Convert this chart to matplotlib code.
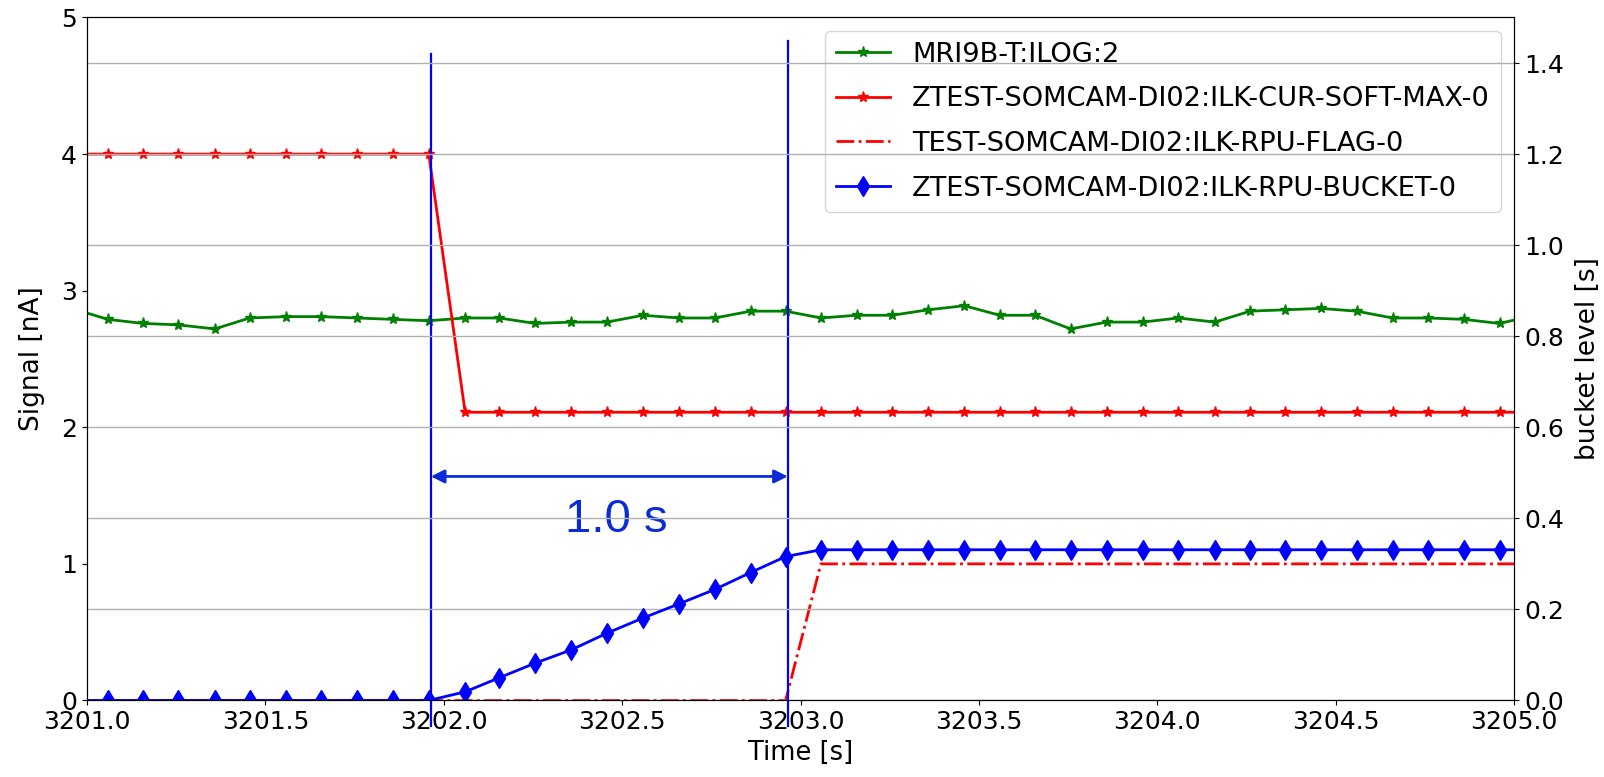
import matplotlib
matplotlib.use('Agg')
import matplotlib.pyplot as plt
import matplotlib.transforms as mtransforms

# sample timestamps [s]
time = [3200.958, 3201.058, 3201.158, 3201.255, 3201.358, 3201.456, 3201.557, 3201.657,
        3201.756, 3201.857, 3201.958, 3202.060, 3202.156, 3202.256, 3202.357, 3202.458,
        3202.558, 3202.659, 3202.760, 3202.860, 3202.958, 3203.057, 3203.157, 3203.257,
        3203.358, 3203.459, 3203.558, 3203.657, 3203.757, 3203.858, 3203.959, 3204.059,
        3204.161, 3204.260, 3204.358, 3204.458, 3204.559, 3204.659, 3204.759, 3204.859,
        3204.959, 3205.058]

ilog = [2.87, 2.79, 2.76, 2.75, 2.72, 2.80, 2.81, 2.81, 2.80, 2.79, 2.78, 2.80, 2.80, 2.76,
        2.77, 2.77, 2.82, 2.80, 2.80, 2.85, 2.85, 2.80, 2.82, 2.82, 2.86, 2.89, 2.82, 2.82,
        2.72, 2.77, 2.77, 2.80, 2.77, 2.85, 2.86, 2.87, 2.85, 2.80, 2.80, 2.79, 2.76, 2.82]

soft_max = [4.0] * 11 + [2.11] * 31

rpu_flag = [0] * 21 + [1] * 21

bucket = [0.0] * 11 + [0.019, 0.050, 0.082, 0.111, 0.148, 0.181, 0.212, 0.244, 0.281,
                       0.316] + [0.331] * 21

t_trip_start = 3201.964
t_trip_end = 3202.964

label_ilog = "MRI9B-T:ILOG:2"
label_soft = "ZTEST-SOMCAM-DI02:ILK-CUR-SOFT-MAX-0"
label_flag = "TEST-SOMCAM-DI02:ILK-RPU-FLAG-0"
label_bucket = "ZTEST-SOMCAM-DI02:ILK-RPU-BUCKET-0"

plt.rcParams['font.size'] = 18

fig = plt.figure(figsize=(16.04, 7.77), dpi=100)
ax1 = fig.add_axes([0.0542, 0.0985, 0.8898, 0.879])
ax2 = ax1.twinx()

l1, = ax1.plot(time, ilog, color='green', marker='*', markersize=8, linewidth=2, label=label_ilog)
l2, = ax1.plot(time, soft_max, color='red', marker='*', markersize=8, linewidth=2, label=label_soft)
l3, = ax1.plot(time, rpu_flag, color='red', linestyle='-.', linewidth=2, label=label_flag)
l4, = ax2.plot(time, bucket, color='blue', marker='d', markersize=10, linewidth=2, label=label_bucket)

ax1.set_xlim(3201.0, 3205.0)
ax1.set_ylim(0, 5)
ax2.set_ylim(0, 1.5)
ax1.set_yticks([0, 1, 2, 3, 4, 5])
ax2.set_yticks([0.0, 0.2, 0.4, 0.6, 0.8, 1.0, 1.2, 1.4])
ax1.ticklabel_format(axis='x', useOffset=False)
ax1.set_xlabel("Time [s]", fontsize=18.5)
ax1.set_ylabel("Signal [nA]", fontsize=19, labelpad=12)
ax2.set_ylabel("bucket level [s]", fontsize=19, labelpad=8)
ax2.grid(True, color='#b0b0b0', linewidth=1)

ax1.legend(handles=[l1, l2, l3, l4], loc='upper right', fontsize=19.6, labelspacing=0.68)

# trip window markers
trans = mtransforms.blended_transform_factory(ax1.transData, ax1.transAxes)
ax1.plot([t_trip_start, t_trip_start], [-0.037, 0.947], color='blue', linewidth=1.6,
         transform=trans, clip_on=False)
ax1.plot([t_trip_end, t_trip_end], [-0.037, 0.966], color='blue', linewidth=1.6,
         transform=trans, clip_on=False)
ax1.annotate('', xy=(t_trip_end, 0.328), xytext=(t_trip_start, 0.328), xycoords=trans,
             textcoords=trans,
             arrowprops=dict(arrowstyle='<|-|>', color='#0a2cd8', lw=2, mutation_scale=20,
                             shrinkA=0, shrinkB=0))
ax1.text(t_trip_start + 0.52 * (t_trip_end - t_trip_start), 0.264,
         f"{t_trip_end - t_trip_start:.1f} s",
         transform=trans, ha='center', va='center', color='#0a2cd8', fontsize=34,
         family='Liberation Sans')

fig.savefig("out.png", dpi=100)
